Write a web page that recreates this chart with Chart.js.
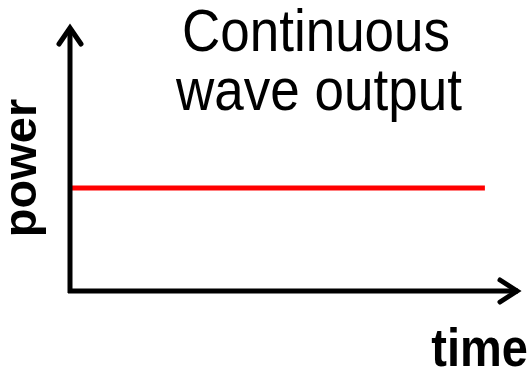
<!DOCTYPE html>
<html>
<head>
<meta charset="utf-8">
<script src="https://cdn.jsdelivr.net/npm/chart.js@4.4.0/dist/chart.umd.min.js"></script>
<style>
  html, body { margin: 0; padding: 0; background: #fff; }
  #wrap { width: 530px; height: 367px; }
</style>
</head>
<body>
<div id="wrap"><canvas id="chart" width="530" height="367"></canvas></div>
<script>
// data (arbitrary units)
const times = [0, 9.22];
const power = [3.89, 3.89];
const titleLines = ['Continuous', 'wave output'];
const xTitle = 'time';
const yTitle = 'power';

const ctx = document.getElementById('chart').getContext('2d');

// text a bit taller than wide, like the original slide
function tallText(c, text, x, y, sy) {
  c.save();
  c.translate(x, y);
  c.scale(1, sy);
  c.fillText(text, 0, 0);
  c.restore();
}

// draws the arrowed axes and the text labels
const axesPlugin = {
  id: 'arrowAxes',
  afterDraw(chart) {
    const c = chart.ctx;
    const a = chart.chartArea;
    c.save();
    c.strokeStyle = '#000';
    c.lineWidth = 5;
    c.lineCap = 'butt';
    c.beginPath();
    c.moveTo(a.left, a.bottom + 2);
    c.lineTo(a.left, a.top + 2);
    c.moveTo(a.left - 2, a.bottom);
    c.lineTo(a.right - 2, a.bottom);
    c.stroke();
    // arrow heads
    c.lineCap = 'round';
    c.lineJoin = 'miter';
    c.beginPath();
    c.moveTo(a.left - 11, a.top + 18);
    c.lineTo(a.left, a.top + 2);
    c.lineTo(a.left + 11, a.top + 18);
    c.moveTo(a.right - 20, a.bottom - 11);
    c.lineTo(a.right - 3, a.bottom);
    c.lineTo(a.right - 20, a.bottom + 11);
    c.stroke();

    c.fillStyle = '#000';
    c.textAlign = 'center';
    c.textBaseline = 'alphabetic';
    c.font = '53px "Liberation Sans", Arial, sans-serif';
    tallText(c, titleLines[0], 316, 51, 1.12);
    tallText(c, titleLines[1], 319, 110, 1.12);

    c.font = 'bold 47px "Liberation Sans", Arial, sans-serif';
    c.textAlign = 'right';
    tallText(c, xTitle, 528, 366, 1.14);

    c.translate(36, 168);
    c.rotate(-Math.PI / 2);
    c.textAlign = 'center';
    c.fillText(yTitle, 0, 0);
    c.restore();
  }
};

new Chart(ctx, {
  type: 'line',
  data: {
    datasets: [{
      data: times.map((t, i) => ({ x: t, y: power[i] })),
      borderColor: '#ff0000',
      borderWidth: 5,
      pointRadius: 0,
      tension: 0
    }]
  },
  options: {
    responsive: false,
    devicePixelRatio: 1,
    animation: false,
    layout: { padding: { left: 70, right: 10, top: 26, bottom: 76 } },
    plugins: {
      legend: { display: false },
      tooltip: { enabled: false }
    },
    scales: {
      x: { type: 'linear', min: 0, max: 10, display: false },
      y: { min: 0, max: 10, display: false }
    }
  },
  plugins: [axesPlugin]
});
</script>
</body>
</html>
